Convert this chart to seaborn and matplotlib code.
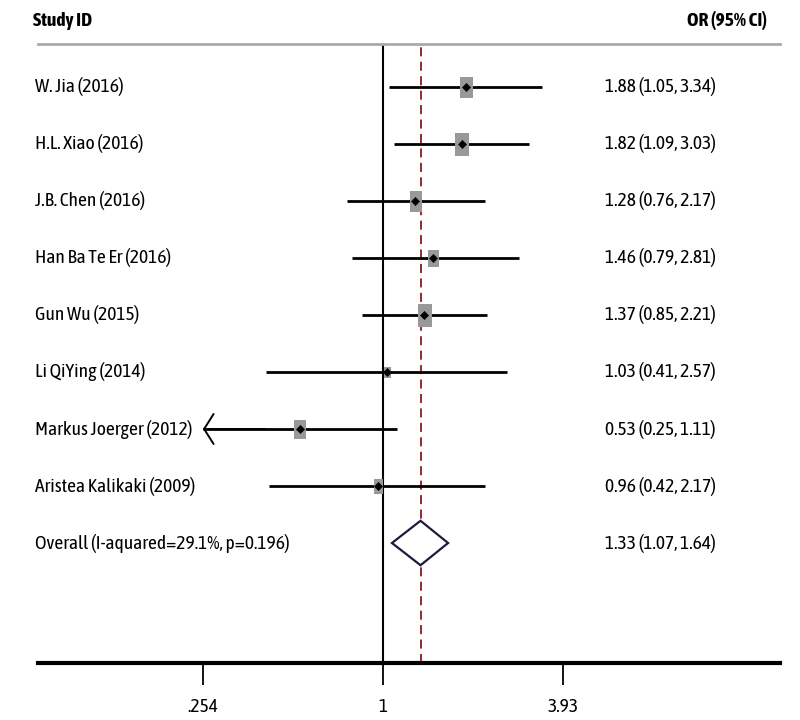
import matplotlib
matplotlib.use("Agg")
import matplotlib.pyplot as plt
from matplotlib import font_manager
from matplotlib.path import Path
import seaborn as sns
import pandas as pd
import numpy as np

# ── Data ─────────────────────────────────────────────────────
studies = ["W. Jia (2016)", "H.L. Xiao (2016)", "J.B. Chen (2016)",
           "Han Ba Te Er (2016)", "Gun Wu (2015)", "Li QiYing (2014)",
           "Markus Joerger (2012)", "Aristea Kalikaki (2009)"]
odds = [1.88, 1.82, 1.28, 1.46, 1.37, 1.03, 0.53, 0.96]
ci_low = [1.05, 1.09, 0.76, 0.79, 0.85, 0.41, 0.25, 0.42]
ci_high = [3.34, 3.03, 2.17, 2.81, 2.21, 2.57, 1.11, 2.17]
weights = [16.1, 18.4, 14.1, 10.3, 18.4, 3.5, 12.1, 7.2]

overall_label = "Overall (I-aquared=29.1%, p=0.196)"
overall = [1.33, 1.07, 1.64]
xticks = [0.254, 1, 3.93]
xtick_labels = [".254", "1", "3.93"]

df = pd.DataFrame({"study": studies, "or": odds, "lo": ci_low,
                   "hi": ci_high, "w": weights})
df["row"] = np.arange(len(df))

# ── Style: condensed font if one is around ──────────────────
sns.set_theme(style="white")
installed = {f.name for f in font_manager.fontManager.ttflist}
narrow = next((n for n in ["Asap Condensed", "Archivo Narrow", "Roboto Condensed",
                           "Liberation Sans Narrow"] if n in installed), None)
plt.rcParams["font.family"] = [narrow, "DejaVu Sans"] if narrow else ["Liberation Sans", "DejaVu Sans"]
fs = 14 if narrow else 12.5
plt.rcParams["text.color"] = "black"
plt.rcParams["xtick.color"] = "black"

fig = plt.figure(figsize=(8, 7.2), dpi=100)
ax = fig.add_axes([38 / 800, 1 - 663 / 720, (780 - 38) / 800, (663 - 44) / 720])
ax.set_xscale("log")
ax.set_xlim(0.0724, 20.5)
ax.set_ylim(10.105, -0.754)

# reference lines
ax.axvline(1, color="black", lw=1.5, zorder=1)
ax.axvline(overall[0], color="#8b1a1a", lw=1.3, ls=(0, (5, 3)), zorder=1)

# confidence intervals (clipped at the left tick with an arrow)
left_clip = xticks[0]
for _, r in df.iterrows():
    if r["lo"] < left_clip:
        ax.hlines(r["row"], left_clip, r["hi"], color="black", lw=2, zorder=2)
        ax.annotate("", xy=(left_clip, r["row"]), xytext=(left_clip * 1.6, r["row"]),
                    arrowprops=dict(arrowstyle="->,head_length=0.38,head_width=0.6",
                                    color="black", lw=1.4, mutation_scale=18,
                                    shrinkA=0, shrinkB=0))
    else:
        ax.hlines(r["row"], r["lo"], r["hi"], color="black", lw=2, zorder=2)

# weight boxes (slightly taller than wide)
box = Path([(-0.6, -1), (0.6, -1), (0.6, 1), (-0.6, 1), (-0.6, -1)])
df["msize"] = df["w"] * 13
sns.scatterplot(data=df, x="or", y="row", size="msize", sizes=(45, 260),
                marker=box, color="#999999", edgecolor="#999999",
                legend=False, ax=ax, zorder=3)
sns.scatterplot(data=df, x="or", y="row", marker="D", s=18, color="black",
                edgecolor="black", legend=False, ax=ax, zorder=4)

# overall diamond
orow = len(df)
dx = [overall[1], overall[0], overall[2], overall[0], overall[1]]
dy = [orow, orow - 0.39, orow, orow + 0.39, orow]
ax.fill(dx, dy, facecolor="white", edgecolor="#1c1c3c", lw=1.6, zorder=3)

# text columns
trans_lbl = ax.get_yaxis_transform()
name_x = -3 / 742
or_x = (605 - 38) / 742
for _, r in df.iterrows():
    ax.text(name_x, r["row"], r["study"], transform=trans_lbl, ha="left",
            va="center", fontsize=fs)
    ax.text(or_x, r["row"], f"{r['or']:.2f} ({r['lo']:.2f}, {r['hi']:.2f})",
            transform=trans_lbl, ha="left", va="center", fontsize=fs)
ax.text(name_x, orow, overall_label, transform=trans_lbl, ha="left",
        va="center", fontsize=fs)
ax.text(or_x, orow, f"{overall[0]:.2f} ({overall[1]:.2f}, {overall[2]:.2f})",
        transform=trans_lbl, ha="left", va="center", fontsize=fs)

fig.text(33 / 800, 1 - 21 / 720, "Study ID", ha="left", va="center",
         fontsize=fs, fontweight="bold")
fig.text(767 / 800, 1 - 21 / 720, "OR (95% CI)", ha="right", va="center",
         fontsize=fs, fontweight="bold")

# spines and ticks
for s in ["left", "right"]:
    ax.spines[s].set_visible(False)
ax.spines["top"].set_color("#aaaaaa")
ax.spines["top"].set_linewidth(2)
ax.spines["bottom"].set_color("black")
ax.spines["bottom"].set_linewidth(3)
ax.set_yticks([])
ax.set_xticks(xticks)
ax.set_xticklabels(xtick_labels, fontsize=fs)
ax.minorticks_off()
ax.tick_params(axis="x", direction="out", length=16, width=1.3, color="black",
               pad=9, bottom=True)
ax.set_xlabel("")
ax.set_ylabel("")

fig.savefig("out.png", dpi=100)
